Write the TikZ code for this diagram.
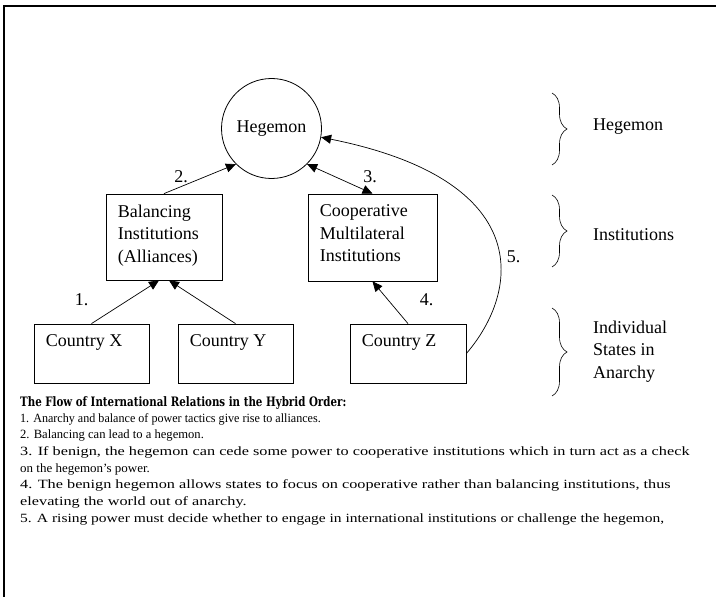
\documentclass[tikz,border=0pt]{standalone}
\usepackage{fontspec}
\setmainfont{Liberation Serif}
\newfontfamily\headfont{DejaVu Serif}
\usetikzlibrary{arrows.meta,decorations.pathreplacing}

\begin{document}
\begin{tikzpicture}[x=1bp, y=-1bp,
  box/.style={draw, line width=0.8pt, inner sep=0},
  inbox/.style={anchor=north west, inner sep=0, align=left, xshift=12bp, yshift=-11.2bp},
  arr/.style={-{Triangle[length=10bp,width=9bp]}, line width=0.7pt},
  num/.style={anchor=base, inner sep=0},
  brace/.style={decorate, decoration={brace, amplitude=15bp}, line width=0.6pt},
  side/.style={anchor=base west, inner sep=0, align=left},
  note/.style={anchor=base west, inner sep=0, font=\fontsize{12.6bp}{15bp}\selectfont},
  every node/.style={font=\fontsize{18bp}{22.5bp}\selectfont}
]
\useasboundingbox (0,0) rectangle (716,597);
\def\cw{115}
\def\ch{59}
% frame
\draw[line width=1.2pt] (4,597) -- (4,6) -- (716,6);

% levels
\node[draw, circle, line width=0.8pt, minimum size=100bp, inner sep=0] (heg) at (271.5,128.5) {};
\node[anchor=base, inner sep=0] (hegtxt) at (271.5,132.5) {Hegemon};
\node[box, minimum width=116bp, minimum height=86bp] (bal) at (164,237) {};
\node[inbox] (baltxt) at (bal.north west) {Balancing\\Institutions\\(Alliances)};
\node[box, minimum width=129bp, minimum height=87bp] (coop) at (372.5,237.5) {};
\node[inbox] (cooptxt) at (coop.north west) {Cooperative\\Multilateral\\Institutions};
\node[box, minimum width=\cw bp, minimum height=\ch bp] (cx) at (91.5,353.5) {};
\node[inbox] (cxtxt) at (cx.north west) {Country X};
\node[box, minimum width=\cw bp, minimum height=\ch bp] (cy) at (235.5,353.5) {};
\node[inbox] (cytxt) at (cy.north west) {Country Y};
\node[box, minimum width=116bp, minimum height=\ch bp] (cz) at (408,353.5) {};
\node[inbox] (cztxt) at (cz.north west) {Country Z};

% flows
\draw[arr] (cx.north) -- ([xshift=-5bp]bal.south);
\draw[arr] (cy.north) -- ([xshift=5bp]bal.south);
\draw[arr] (bal.north) -- (heg.225);
\draw[arr, {Triangle[length=10bp,width=9bp]}-{Triangle[length=10bp,width=9bp]}] (heg.-45) -- (coop.north);
\draw[arr] (cz.north) -- (coop.south);
\draw[arr] (cz.east) .. controls +(54,-63) and +(214,43) .. (heg.-10);

\node[num] (n1) at (81.5,305) {1.};
\node[num] (n2) at (181,183) {2.};
\node[num] (n3) at (370,183) {3.};
\node[num] (n4) at (426.5,305) {4.};
\node[num] (n5) at (513.5,262) {5.};

% braces
\draw[brace] (552,93) -- (552,165);
\draw[brace] (552,195) -- (552,267);
\draw[brace] (552,308) -- (552,396);
\node[side] (lheg) at (593,131) {Hegemon};
\node[side] (linst) at (593,240) {Institutions};
\node[side, anchor=north west] (lstates) at (593,320.7) {Individual\\States in\\Anarchy};

% legend
\node[anchor=base west, inner sep=0, font=\headfont\bfseries\fontsize{13bp}{15bp}\selectfont] (title) at (20,406) {\scalebox{0.79}[1]{The Flow of International Relations in the Hybrid Order:}};
\node[note] (l1) at (20,422) {\scalebox{0.96}[1]{1. Anarchy and balance of power tactics give rise to alliances.}};
\node[note] (l2) at (20,438.7) {2. Balancing can lead to a hegemon.};
\node[note] (l3) at (20,455.3) {\scalebox{1.29}[1]{3. If benign, the hegemon can cede some power to cooperative institutions which in turn act as a check}};
\node[note] (l3b) at (20,472) {\scalebox{1.03}[1]{on the hegemon’s power.}};
\node[note] (l4) at (20,488.7) {\scalebox{1.29}[1]{4. The benign hegemon allows states to focus on cooperative rather than balancing institutions, thus}};
\node[note] (l4b) at (20,505.3) {\scalebox{1.29}[1]{elevating the world out of anarchy.}};
\node[note] (l5) at (20,522) {\scalebox{1.23}[1]{5. A rising power must decide whether to engage in international institutions or challenge the hegemon,}};
\end{tikzpicture}
\end{document}
